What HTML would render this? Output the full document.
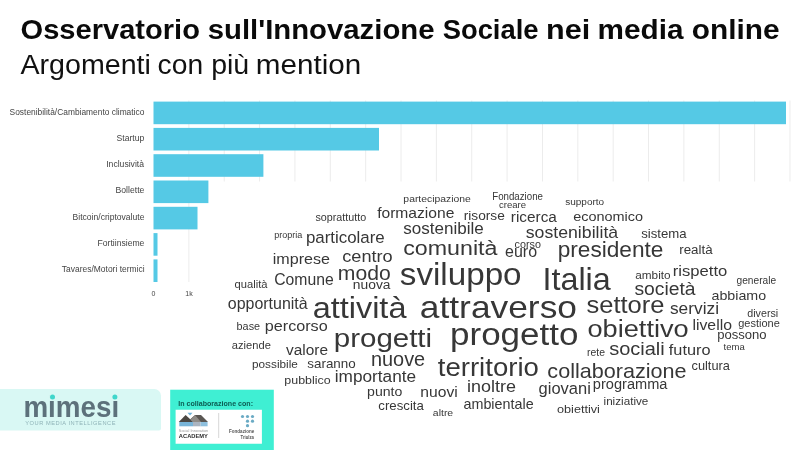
<!DOCTYPE html>
<html lang="it"><head><meta charset="utf-8"><title>Osservatorio sull'Innovazione Sociale nei media online</title>
<style>
html,body{margin:0;padding:0;background:#fff;}
body{width:800px;height:450px;overflow:hidden;}
svg{display:block;font-family:"Liberation Sans",sans-serif;}
</style></head><body>
<svg width="800" height="450" viewBox="0 0 800 450">
<rect width="800" height="450" fill="#fff"/>

<text y="38.50" id="title" font-size="28.1" font-weight="bold" fill="#0a0a0a"><tspan x="20.59" textLength="179.31" lengthAdjust="spacingAndGlyphs">Osservatorio</tspan> <tspan x="207.72" textLength="226.77" lengthAdjust="spacingAndGlyphs">sull'Innovazione</tspan> <tspan x="442.68" textLength="95.83" lengthAdjust="spacingAndGlyphs">Sociale</tspan> <tspan x="546.02" textLength="44.12" lengthAdjust="spacingAndGlyphs">nei</tspan> <tspan x="597.57" textLength="85.89" lengthAdjust="spacingAndGlyphs">media</tspan> <tspan x="691.81" textLength="87.72" lengthAdjust="spacingAndGlyphs">online</tspan></text>
<text y="73.70" id="subtitle" font-size="26.8" fill="#111"><tspan x="20.50" textLength="130.44" lengthAdjust="spacingAndGlyphs">Argomenti</tspan> <tspan x="157.62" textLength="45.53" lengthAdjust="spacingAndGlyphs">con</tspan> <tspan x="211.15" textLength="38.05" lengthAdjust="spacingAndGlyphs">più</tspan> <tspan x="255.82" textLength="105.43" lengthAdjust="spacingAndGlyphs">mention</tspan></text>
<g id="grid" stroke="#ececec" stroke-width="1">
<line x1="188.86" y1="100.5" x2="188.86" y2="282"/>
<line x1="224.22" y1="100.5" x2="224.22" y2="181.5"/>
<line x1="259.58" y1="100.5" x2="259.58" y2="181.5"/>
<line x1="294.94" y1="100.5" x2="294.94" y2="181.5"/>
<line x1="330.30" y1="100.5" x2="330.30" y2="181.5"/>
<line x1="365.66" y1="100.5" x2="365.66" y2="181.5"/>
<line x1="401.02" y1="100.5" x2="401.02" y2="181.5"/>
<line x1="436.38" y1="100.5" x2="436.38" y2="181.5"/>
<line x1="471.74" y1="100.5" x2="471.74" y2="181.5"/>
<line x1="507.10" y1="100.5" x2="507.10" y2="181.5"/>
<line x1="542.46" y1="100.5" x2="542.46" y2="181.5"/>
<line x1="577.82" y1="100.5" x2="577.82" y2="181.5"/>
<line x1="613.18" y1="100.5" x2="613.18" y2="181.5"/>
<line x1="648.54" y1="100.5" x2="648.54" y2="181.5"/>
<line x1="683.90" y1="100.5" x2="683.90" y2="181.5"/>
<line x1="719.26" y1="100.5" x2="719.26" y2="181.5"/>
<line x1="754.62" y1="100.5" x2="754.62" y2="181.5"/>
<line x1="789.98" y1="100.5" x2="789.98" y2="181.5"/>
</g>
<g id="bars" fill="#55c9e5">
<rect x="153.5" y="101.60" width="632.50" height="22.6"/>
<rect x="153.5" y="127.90" width="225.50" height="22.6"/>
<rect x="153.5" y="154.20" width="109.90" height="22.6"/>
<rect x="153.5" y="180.50" width="54.90" height="22.6"/>
<rect x="153.5" y="206.80" width="44.00" height="22.6"/>
<rect x="153.5" y="233.10" width="4.00" height="22.6"/>
<rect x="153.5" y="259.40" width="4.00" height="22.6"/>
</g><g id="barlabels">
<text x="9.62" y="114.50" font-size="8.60" textLength="134.74" lengthAdjust="spacingAndGlyphs" fill="#444">Sostenibilità/Cambiamento climatico</text>
<text x="116.61" y="140.80" font-size="8.60" textLength="27.72" lengthAdjust="spacingAndGlyphs" fill="#444">Startup</text>
<text x="106.23" y="167.10" font-size="8.60" textLength="37.78" lengthAdjust="spacingAndGlyphs" fill="#444">Inclusività</text>
<text x="115.56" y="193.40" font-size="8.60" textLength="28.84" lengthAdjust="spacingAndGlyphs" fill="#444">Bollette</text>
<text x="72.57" y="219.70" font-size="8.60" textLength="71.85" lengthAdjust="spacingAndGlyphs" fill="#444">Bitcoin/criptovalute</text>
<text x="97.56" y="246.00" font-size="8.60" textLength="46.83" lengthAdjust="spacingAndGlyphs" fill="#444">Fortiinsieme</text>
<text x="61.83" y="272.30" font-size="8.60" textLength="82.72" lengthAdjust="spacingAndGlyphs" fill="#444">Tavares/Motori termici</text>
</g>
<g id="axis" font-size="7" fill="#444" text-anchor="middle"><text x="153.5" y="296">0</text><text x="189" y="296">1k</text></g>
<g id="cloud">
<text x="403.38" y="202.30" font-size="9.96" textLength="67.39" lengthAdjust="spacingAndGlyphs" fill="#373737">partecipazione</text>
<text x="492.22" y="200.30" font-size="9.99" textLength="50.73" lengthAdjust="spacingAndGlyphs" fill="#373737">Fondazione</text>
<text x="499.07" y="208.30" font-size="9.36" textLength="27.06" lengthAdjust="spacingAndGlyphs" fill="#373737">creare</text>
<text x="565.20" y="205.30" font-size="9.46" textLength="38.97" lengthAdjust="spacingAndGlyphs" fill="#373737">supporto</text>
<text x="315.43" y="220.55" font-size="10.72" textLength="50.75" lengthAdjust="spacingAndGlyphs" fill="#373737">soprattutto</text>
<text x="377.17" y="218.30" font-size="14.78" textLength="77.22" lengthAdjust="spacingAndGlyphs" fill="#373737">formazione</text>
<text x="463.76" y="220.30" font-size="13.04" textLength="41.01" lengthAdjust="spacingAndGlyphs" fill="#373737">risorse</text>
<text x="510.85" y="221.85" font-size="14.68" textLength="46.01" lengthAdjust="spacingAndGlyphs" fill="#373737">ricerca</text>
<text x="573.17" y="220.80" font-size="13.68" textLength="69.92" lengthAdjust="spacingAndGlyphs" fill="#373737">economico</text>
<text x="403.24" y="234.15" font-size="16.17" textLength="80.53" lengthAdjust="spacingAndGlyphs" fill="#373737">sostenibile</text>
<text x="525.72" y="237.80" font-size="16.57" textLength="92.49" lengthAdjust="spacingAndGlyphs" fill="#373737">sostenibilità</text>
<text x="641.15" y="238.00" font-size="12.40" textLength="45.40" lengthAdjust="spacingAndGlyphs" fill="#373737">sistema</text>
<text x="274.21" y="237.50" font-size="9.08" textLength="28.11" lengthAdjust="spacingAndGlyphs" fill="#373737">propria</text>
<text x="305.95" y="242.80" font-size="16.06" textLength="78.84" lengthAdjust="spacingAndGlyphs" fill="#373737">particolare</text>
<text x="403.22" y="254.95" font-size="20.96" textLength="94.24" lengthAdjust="spacingAndGlyphs" fill="#373737">comunità</text>
<text x="514.57" y="248.00" font-size="10.16" textLength="26.37" lengthAdjust="spacingAndGlyphs" fill="#373737">corso</text>
<text x="505.06" y="257.40" font-size="15.63" textLength="32.06" lengthAdjust="spacingAndGlyphs" fill="#373737">euro</text>
<text x="557.68" y="257.05" font-size="21.87" textLength="105.74" lengthAdjust="spacingAndGlyphs" fill="#373737">presidente</text>
<text x="679.23" y="254.05" font-size="12.82" textLength="33.39" lengthAdjust="spacingAndGlyphs" fill="#373737">realtà</text>
<text x="272.70" y="264.05" font-size="15.47" textLength="57.30" lengthAdjust="spacingAndGlyphs" fill="#373737">imprese</text>
<text x="342.27" y="261.55" font-size="17.23" textLength="50.44" lengthAdjust="spacingAndGlyphs" fill="#373737">centro</text>
<text x="274.21" y="284.65" font-size="16.71" textLength="59.49" lengthAdjust="spacingAndGlyphs" fill="#373737">Comune</text>
<text x="337.78" y="279.55" font-size="20.49" textLength="52.90" lengthAdjust="spacingAndGlyphs" fill="#373737">modo</text>
<text x="352.85" y="289.05" font-size="13.52" textLength="37.64" lengthAdjust="spacingAndGlyphs" fill="#373737">nuova</text>
<text x="234.55" y="288.20" font-size="11.33" textLength="32.97" lengthAdjust="spacingAndGlyphs" fill="#373737">qualità</text>
<text x="399.80" y="284.95" font-size="30.73" textLength="121.79" lengthAdjust="spacingAndGlyphs" fill="#373737">sviluppo</text>
<text x="542.54" y="290.05" font-size="31.37" textLength="68.23" lengthAdjust="spacingAndGlyphs" fill="#373737">Italia</text>
<text x="635.23" y="279.30" font-size="10.99" textLength="35.36" lengthAdjust="spacingAndGlyphs" fill="#373737">ambito</text>
<text x="672.72" y="276.10" font-size="15.50" textLength="54.54" lengthAdjust="spacingAndGlyphs" fill="#373737">rispetto</text>
<text x="634.42" y="294.80" font-size="18.23" textLength="61.15" lengthAdjust="spacingAndGlyphs" fill="#373737">società</text>
<text x="736.59" y="284.30" font-size="10.01" textLength="39.49" lengthAdjust="spacingAndGlyphs" fill="#373737">generale</text>
<text x="711.53" y="300.00" font-size="13.60" textLength="54.66" lengthAdjust="spacingAndGlyphs" fill="#373737">abbiamo</text>
<text x="227.81" y="308.95" font-size="15.66" textLength="79.87" lengthAdjust="spacingAndGlyphs" fill="#373737">opportunità</text>
<text x="312.65" y="318.20" font-size="29.94" textLength="93.80" lengthAdjust="spacingAndGlyphs" fill="#373737">attività</text>
<text x="419.84" y="317.95" font-size="31.71" textLength="157.13" lengthAdjust="spacingAndGlyphs" fill="#373737">attraverso</text>
<text x="586.53" y="313.40" font-size="24.10" textLength="77.97" lengthAdjust="spacingAndGlyphs" fill="#373737">settore</text>
<text x="669.98" y="314.20" font-size="16.68" textLength="49.01" lengthAdjust="spacingAndGlyphs" fill="#373737">servizi</text>
<text x="747.27" y="317.40" font-size="10.28" textLength="30.92" lengthAdjust="spacingAndGlyphs" fill="#373737">diversi</text>
<text x="236.60" y="330.30" font-size="10.59" textLength="23.48" lengthAdjust="spacingAndGlyphs" fill="#373737">base</text>
<text x="264.75" y="331.30" font-size="15.48" textLength="62.96" lengthAdjust="spacingAndGlyphs" fill="#373737">percorso</text>
<text x="333.78" y="346.90" font-size="26.49" textLength="98.35" lengthAdjust="spacingAndGlyphs" fill="#373737">progetti</text>
<text x="450.03" y="345.10" font-size="32.26" textLength="128.41" lengthAdjust="spacingAndGlyphs" fill="#373737">progetto</text>
<text x="587.51" y="336.90" font-size="24.69" textLength="101.16" lengthAdjust="spacingAndGlyphs" fill="#373737">obiettivo</text>
<text x="692.47" y="329.80" font-size="14.98" textLength="39.47" lengthAdjust="spacingAndGlyphs" fill="#373737">livello</text>
<text x="738.26" y="327.40" font-size="10.52" textLength="41.54" lengthAdjust="spacingAndGlyphs" fill="#373737">gestione</text>
<text x="717.25" y="339.10" font-size="12.43" textLength="49.38" lengthAdjust="spacingAndGlyphs" fill="#373737">possono</text>
<text x="231.85" y="349.05" font-size="10.93" textLength="38.98" lengthAdjust="spacingAndGlyphs" fill="#373737">aziende</text>
<text x="285.97" y="354.75" font-size="15.04" textLength="42.00" lengthAdjust="spacingAndGlyphs" fill="#373737">valore</text>
<text x="587.02" y="355.80" font-size="10.08" textLength="17.93" lengthAdjust="spacingAndGlyphs" fill="#373737">rete</text>
<text x="609.20" y="355.20" font-size="18.71" textLength="55.58" lengthAdjust="spacingAndGlyphs" fill="#373737">sociali</text>
<text x="668.81" y="355.20" font-size="15.06" textLength="41.68" lengthAdjust="spacingAndGlyphs" fill="#373737">futuro</text>
<text x="723.56" y="349.80" font-size="9.02" textLength="21.17" lengthAdjust="spacingAndGlyphs" fill="#373737">tema</text>
<text x="252.03" y="367.80" font-size="11.16" textLength="45.81" lengthAdjust="spacingAndGlyphs" fill="#373737">possibile</text>
<text x="307.30" y="367.65" font-size="12.99" textLength="48.42" lengthAdjust="spacingAndGlyphs" fill="#373737">saranno</text>
<text x="370.96" y="365.70" font-size="19.56" textLength="54.18" lengthAdjust="spacingAndGlyphs" fill="#373737">nuove</text>
<text x="437.79" y="376.20" font-size="25.64" textLength="101.09" lengthAdjust="spacingAndGlyphs" fill="#373737">territorio</text>
<text x="547.34" y="377.55" font-size="20.70" textLength="139.31" lengthAdjust="spacingAndGlyphs" fill="#373737">collaborazione</text>
<text x="691.49" y="370.45" font-size="12.12" textLength="38.43" lengthAdjust="spacingAndGlyphs" fill="#373737">cultura</text>
<text x="284.39" y="384.25" font-size="11.78" textLength="46.31" lengthAdjust="spacingAndGlyphs" fill="#373737">pubblico</text>
<text x="334.78" y="381.95" font-size="16.22" textLength="81.39" lengthAdjust="spacingAndGlyphs" fill="#373737">importante</text>
<text x="467.13" y="391.80" font-size="16.94" textLength="48.95" lengthAdjust="spacingAndGlyphs" fill="#373737">inoltre</text>
<text x="538.59" y="393.90" font-size="15.85" textLength="52.25" lengthAdjust="spacingAndGlyphs" fill="#373737">giovani</text>
<text x="592.85" y="388.70" font-size="13.89" textLength="74.59" lengthAdjust="spacingAndGlyphs" fill="#373737">programma</text>
<text x="367.08" y="396.05" font-size="13.36" textLength="35.26" lengthAdjust="spacingAndGlyphs" fill="#373737">punto</text>
<text x="420.28" y="396.90" font-size="15.13" textLength="37.45" lengthAdjust="spacingAndGlyphs" fill="#373737">nuovi</text>
<text x="378.32" y="409.90" font-size="12.46" textLength="45.53" lengthAdjust="spacingAndGlyphs" fill="#373737">crescita</text>
<text x="432.88" y="415.80" font-size="9.93" textLength="20.29" lengthAdjust="spacingAndGlyphs" fill="#373737">altre</text>
<text x="463.48" y="409.25" font-size="13.75" textLength="70.15" lengthAdjust="spacingAndGlyphs" fill="#373737">ambientale</text>
<text x="603.54" y="404.55" font-size="11.12" textLength="44.79" lengthAdjust="spacingAndGlyphs" fill="#373737">iniziative</text>
<text x="556.99" y="413.30" font-size="11.81" textLength="42.94" lengthAdjust="spacingAndGlyphs" fill="#373737">obiettivi</text>
</g>
<g id="footer">
<path d="M0 389.1 H154.3 A6.7 6.7 0 0 1 161 395.8 V428.4 A2 2 0 0 1 159 430.4 H0 Z" fill="#d9f8f4"/>
<g id="mimesi">
<text x="23.39" y="416.60" font-size="30.30" textLength="95.75" lengthAdjust="spacingAndGlyphs" fill="#5d717b" font-weight="bold">mimesi</text>
<rect x="49.5" y="392" width="6" height="8.3" fill="#d9f8f4"/><rect x="111.5" y="392" width="7" height="8.3" fill="#d9f8f4"/>
<circle cx="52.5" cy="397" r="2.5" fill="#40d6cb"/><circle cx="114.9" cy="397" r="2.5" fill="#40d6cb"/>
<text x="25.24" y="424.70" font-size="5.70" textLength="90.23" lengthAdjust="spacing" fill="#8fb3b8">YOUR MEDIA INTELLIGENCE</text>
</g>
<rect x="170.2" y="389.7" width="103.6" height="61" fill="#3fefd3"/>
<text x="178.24" y="406.10" font-size="7.70" textLength="74.75" lengthAdjust="spacingAndGlyphs" fill="#0c5b52" font-weight="bold">In collaborazione con:</text>
<rect x="175.6" y="409.75" width="86.3" height="34" fill="#fff"/>
<g id="academy">
<path d="M178.75 422 L185.6 415 L190.5 419.5 L193 422 Z" fill="#4a4642"/>
<path d="M190 419.5 L195 415 H201 L208 422 H193 Z" fill="#5b5753"/>
<path d="M190.5 419.8 L195.2 415.2 L201 422 H193 Z" fill="#8f8c88"/>
<path d="M187.5 412.8 H192.5 L190 415.4 Z" fill="#6fb1d6"/>
<rect x="179.3" y="422" width="13.7" height="4.3" fill="#78b4d8"/>
<rect x="193" y="422" width="7.6" height="4.3" fill="#aab4c0"/>
<rect x="200.6" y="422" width="7" height="4.3" fill="#8fc0de"/>
<text x="178.83" y="431.70" font-size="3.50" textLength="29.43" lengthAdjust="spacingAndGlyphs" fill="#9a9a9a">Social Innovation</text>
<text x="178.86" y="438.30" font-size="5.90" textLength="29.03" lengthAdjust="spacingAndGlyphs" fill="#2b2b2b" font-weight="bold">ACADEMY</text>
</g>
<rect x="218.5" y="413" width="0.6" height="25" fill="#bdbdbd"/>
<g id="triulza" fill="#6aaac4">
<circle cx="242.5" cy="416.5" r="1.6"/><circle cx="247.5" cy="416.5" r="1.6"/><circle cx="252.5" cy="416.5" r="1.6"/>
<circle cx="247.5" cy="421.2" r="1.6"/><circle cx="252.5" cy="421.2" r="1.6"/>
<circle cx="247.5" cy="425.7" r="1.6"/>
</g>
<text x="229.11" y="433.40" font-size="4.60" textLength="25.05" lengthAdjust="spacingAndGlyphs" fill="#555" font-weight="bold">Fondazione</text>
<text x="240.56" y="438.80" font-size="4.60" textLength="13.41" lengthAdjust="spacingAndGlyphs" fill="#555" font-weight="bold">Triulza</text>
</g>
</svg>
</body></html>
